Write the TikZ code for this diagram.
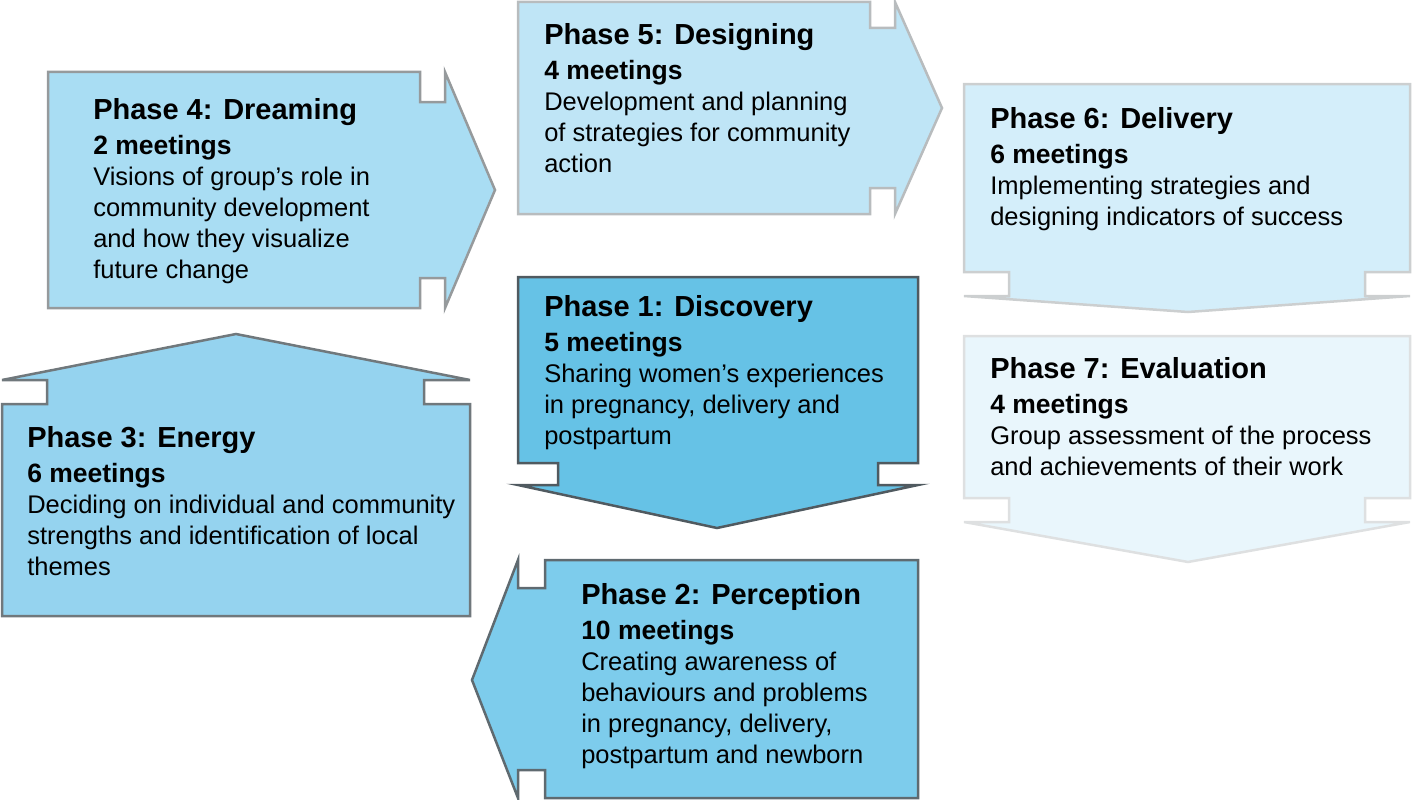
\documentclass[tikz,border=0pt]{standalone}
\usepackage{fontspec}
\setmainfont{Liberation Sans}
\definecolor{f1}{HTML}{66C2E6}\definecolor{d1}{HTML}{505A60}
\definecolor{f2}{HTML}{7DCCEC}\definecolor{d2}{HTML}{5F6A70}
\definecolor{f3}{HTML}{95D3EF}\definecolor{d3}{HTML}{70787C}
\definecolor{f4}{HTML}{A9DDF3}\definecolor{d4}{HTML}{969A9C}
\definecolor{f5}{HTML}{BFE5F6}\definecolor{d5}{HTML}{B8BCBE}
\definecolor{f6}{HTML}{D4EEFA}\definecolor{d6}{HTML}{CCCFD0}
\definecolor{f7}{HTML}{E9F6FC}\definecolor{d7}{HTML}{DEE0E1}
\begin{document}
\begin{tikzpicture}[x=1pt,y=-1pt,line width=2.5pt,line join=miter,
  ptext/.style={anchor=north west,inner sep=0pt,align=left,font={\fontsize{25.5}{31}\selectfont}}]
\useasboundingbox (0,0) rectangle (1413,800);
% Phase 5 (right)
\draw[fill=f5,draw=d5] (518,2)--(870,2)--(870,28)--(895,28)--(895,2)--(942,108)--(895,214)--(895,188)--(870,188)--(870,214)--(518,214)--cycle;
% Phase 4 (right)
\draw[fill=f4,draw=d4] (48,72)--(420,72)--(420,102)--(445,102)--(445,72)--(495,190)--(445,308)--(445,278)--(420,278)--(420,308)--(48,308)--cycle;
% Phase 6 (down)
\draw[fill=f6,draw=d6] (964,84)--(1410,84)--(1410,272)--(1365,272)--(1365,296)--(1410,296)--(1188,312)--(964,296)--(1009,296)--(1009,272)--(964,272)--cycle;
% Phase 7 (down)
\draw[fill=f7,draw=d7] (964,336)--(1410,336)--(1410,498)--(1365,498)--(1365,522)--(1410,522)--(1188,562)--(964,522)--(1009,522)--(1009,498)--(964,498)--cycle;
% Phase 3 (up)
\draw[fill=f3,draw=d3] (2,616)--(2,404)--(47,404)--(47,380)--(2,380)--(236,334)--(470,380)--(424,380)--(424,404)--(470,404)--(470,616)--cycle;
% Phase 1 (down)
\draw[fill=f1,draw=d1] (518,277)--(918,277)--(918,463)--(878,463)--(878,485)--(918,485)--(717,528)--(518,485)--(558,485)--(558,463)--(518,463)--cycle;
% Phase 2 (left)
\draw[fill=f2,draw=d2] (918,560)--(918,798)--(545,798)--(545,770)--(518,770)--(518,798)--(472,680)--(518,560)--(518,588)--(545,588)--(545,560)--cycle;
% texts
\node[ptext] (t4) at (92,97) {{\fontsize{29}{31}\selectfont\bfseries Phase 4: Dreaming}\\[4pt]{\fontsize{26.5}{31}\selectfont\bfseries 2 meetings}\\[0pt]Visions of group’s role in\\community development\\and how they visualize\\future change};
\node[ptext] (t5) at (543,22) {{\fontsize{29}{31}\selectfont\bfseries Phase 5: Designing}\\[4pt]{\fontsize{26.5}{31}\selectfont\bfseries 4 meetings}\\[0pt]Development and planning\\of strategies for community\\action};
\node[ptext] (t6) at (989,106) {{\fontsize{29}{31}\selectfont\bfseries Phase 6: Delivery}\\[4pt]{\fontsize{26.5}{31}\selectfont\bfseries 6 meetings}\\[0pt]Implementing strategies and\\designing indicators of success};
\node[ptext] (t1) at (543,294) {{\fontsize{29}{31}\selectfont\bfseries Phase 1: Discovery}\\[4pt]{\fontsize{26.5}{31}\selectfont\bfseries 5 meetings}\\[0pt]Sharing women’s experiences\\in pregnancy, delivery and\\postpartum};
\node[ptext] (t7) at (989,356) {{\fontsize{29}{31}\selectfont\bfseries Phase 7: Evaluation}\\[4pt]{\fontsize{26.5}{31}\selectfont\bfseries 4 meetings}\\[0pt]Group assessment of the process\\and achievements of their work};
\node[ptext] (t3) at (26,425) {{\fontsize{29}{31}\selectfont\bfseries Phase 3: Energy}\\[4pt]{\fontsize{26.5}{31}\selectfont\bfseries 6 meetings}\\[0pt]Deciding on individual and community\\strengths and identification of local\\themes};
\node[ptext] (t2) at (580,582) {{\fontsize{29}{31}\selectfont\bfseries Phase 2: Perception}\\[4pt]{\fontsize{26.5}{31}\selectfont\bfseries 10 meetings}\\[0pt]Creating awareness of\\behaviours and problems\\in pregnancy, delivery,\\postpartum and newborn};
\end{tikzpicture}
\end{document}
